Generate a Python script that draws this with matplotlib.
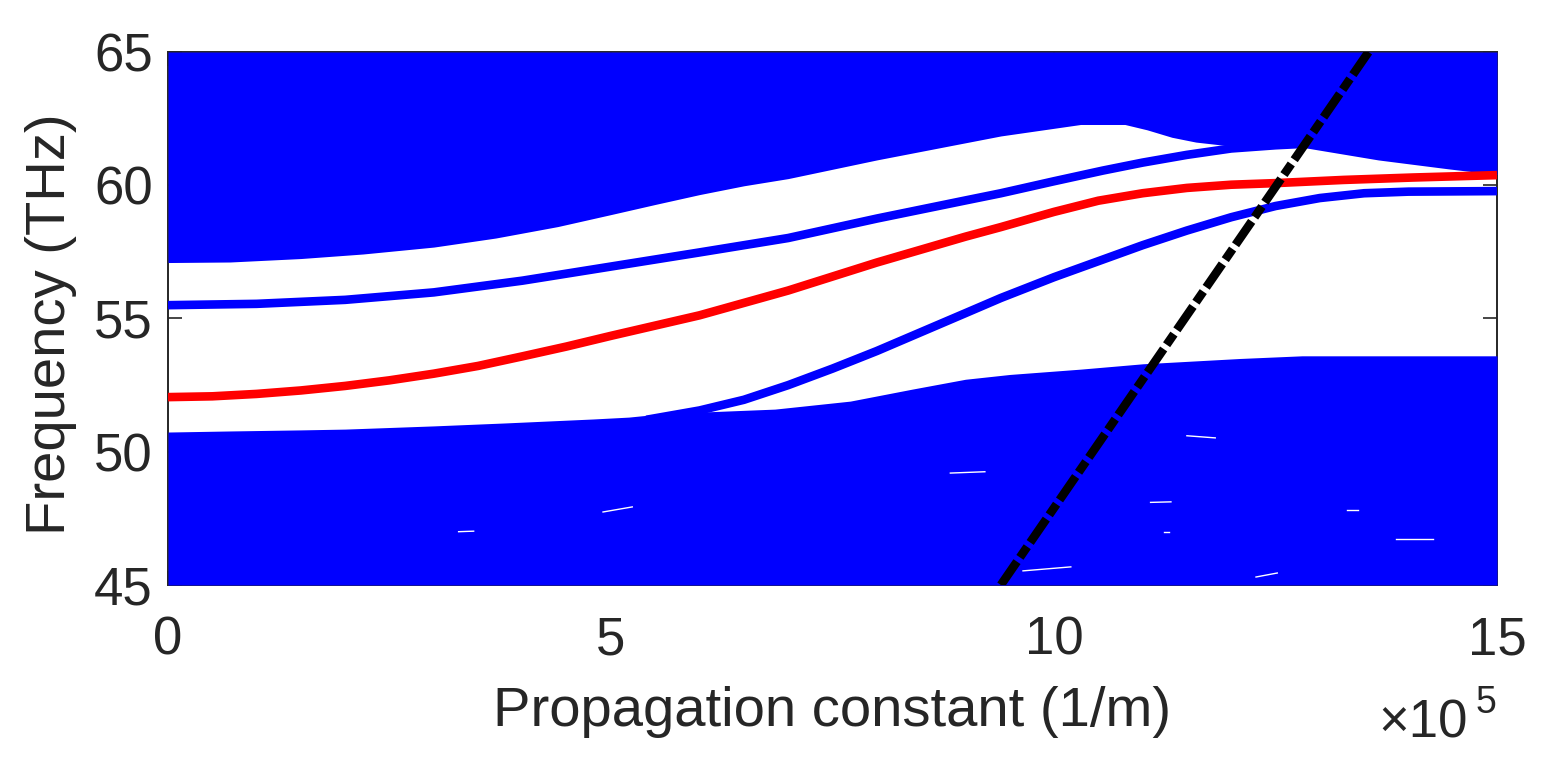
import matplotlib
matplotlib.use("Agg")
import matplotlib.pyplot as plt

plt.rcParams["font.family"] = ["Liberation Sans", "DejaVu Sans"]

# curves, x in units of 1e5 1/m, y in THz
upper_band_x = [0, 0.7, 1.5, 2.2, 3, 3.7, 4.4, 5, 5.5, 6, 6.5, 7, 8, 9.4, 10.3, 10.8, 11.05, 11.33, 11.6, 11.92, 12.4, 12.81, 13.66, 14.44, 15]
upper_band_y = [57.1, 57.12, 57.25, 57.42, 57.68, 58.02, 58.45, 58.9, 59.28, 59.65, 59.98, 60.25, 60.95, 61.85, 62.28, 62.28, 62.08, 61.8, 61.62, 61.5, 61.42, 61.42, 60.95, 60.62, 60.4]
lower_band_x = [0, 0.7, 1.5, 2, 3, 3.8, 4.8, 5.2, 5.5, 6.1, 6.85, 7.7, 8.4, 9, 9.5, 10.3, 11, 12.1, 12.8, 15]
lower_band_y = [50.74, 50.78, 50.82, 50.85, 50.97, 51.08, 51.23, 51.3, 51.4, 51.5, 51.6, 51.9, 52.35, 52.72, 52.9, 53.1, 53.3, 53.5, 53.6, 53.6]

mode_upper_x = [0, 1, 2, 3, 4, 5, 6, 7, 8, 9, 9.4, 10, 10.55, 11, 11.5, 12, 12.5, 12.8]
mode_upper_y = [55.5, 55.55, 55.7, 55.98, 56.42, 56.95, 57.48, 58.02, 58.75, 59.43, 59.7, 60.15, 60.55, 60.85, 61.14, 61.38, 61.5, 61.55]
mode_red_x = [0, 0.5, 1, 1.5, 2, 2.5, 3, 3.5, 4, 4.5, 5, 6, 7, 8, 9, 9.4, 10, 10.5, 11, 11.5, 12, 12.5, 13.27, 14.05, 15]
mode_red_y = [52.05, 52.08, 52.17, 52.3, 52.47, 52.68, 52.93, 53.22, 53.58, 53.95, 54.35, 55.12, 56.05, 57.1, 58.07, 58.43, 59.0, 59.42, 59.7, 59.9, 60.02, 60.08, 60.2, 60.29, 60.38]
mode_lower_x = [5.4, 6, 6.5, 7, 7.5, 8, 9, 9.4, 10, 10.5, 11, 11.5, 12, 12.5, 13, 13.5, 14, 15]
mode_lower_y = [51.2, 51.55, 51.95, 52.5, 53.12, 53.78, 55.2, 55.77, 56.55, 57.15, 57.75, 58.3, 58.8, 59.22, 59.52, 59.7, 59.76, 59.78]
light_x = [9.4, 13.55]
light_y = [45, 65]

# small gaps left inside the lower band: x0, x1, y0, y1
gap_x0 = [4.91, 11.09, 13.31, 13.86, 9.65, 12.28, 11.5, 11.24, 8.83, 3.28]
gap_x1 = [5.24, 11.32, 13.43, 14.28, 10.19, 12.52, 11.82, 11.3, 9.22, 3.45]
gap_y0 = [47.74, 48.1, 47.81, 46.73, 45.53, 45.3, 50.6, 46.99, 49.2, 47.0]
gap_y1 = [47.93, 48.12, 47.81, 46.73, 45.68, 45.45, 50.52, 46.99, 49.25, 47.02]

x_ticks = [0, 5, 10, 15]
y_ticks = [45, 50, 55, 60, 65]

BLUE = "#0000ff"
TEXT = "#262626"

fig = plt.figure(figsize=(15.5, 7.6), dpi=100)
ax = fig.add_axes([168 / 1550, 1 - 585 / 760, (1497 - 168) / 1550, (585 - 52) / 760])

ax.fill_between(upper_band_x, upper_band_y, 65, color=BLUE, lw=0, zorder=1)
ax.fill_between(lower_band_x, lower_band_y, 45, color=BLUE, lw=0, zorder=1)

for x0, x1, y0, y1 in zip(gap_x0, gap_x1, gap_y0, gap_y1):
    ax.plot([x0, x1], [y0, y1], color="white", lw=1.0, zorder=1.5)

ax.plot(mode_upper_x, mode_upper_y, color=BLUE, lw=6.2, zorder=2, solid_capstyle="butt")
ax.plot(mode_lower_x, mode_lower_y, color=BLUE, lw=6.2, zorder=2, solid_capstyle="butt")
ax.plot(mode_red_x, mode_red_y, color="#ff0000", lw=6.2, zorder=3, solid_capstyle="butt")
ax.plot(light_x, light_y, color="black", lw=6.2, ls=(0, (3.3, 0.6, 1.5, 0.6)), zorder=4)

ax.set_xlim(0, 15)
ax.set_ylim(45, 65)
ax.set_xticks(x_ticks)
ax.set_yticks(y_ticks)
ax.set_axisbelow(True)
ax.tick_params(labelsize=38, colors=TEXT, direction="in", length=10, width=1.2, top=True, right=True)
ax.tick_params(axis="x", pad=22)
ax.tick_params(axis="y", pad=11)
ax.set_xlabel("Propagation constant (1/m)", fontsize=40.5, color=TEXT, labelpad=15)
ax.set_ylabel("Frequency (THz)", fontsize=40.5, color=TEXT, labelpad=12)
ax.yaxis.label.set_y(0.49)

fig.text(1378 / 1550, 1 - 738 / 760, "×10", fontsize=38, color=TEXT, ha="left", va="baseline")
fig.text(1476 / 1550, 1 - 713 / 760, "5", fontsize=27, color=TEXT, ha="left", va="baseline")

for s in ax.spines.values():
    s.set_linewidth(1.4)
    s.set_color(TEXT)
    s.set_zorder(0.6)

fig.savefig("out.png", dpi=100)
